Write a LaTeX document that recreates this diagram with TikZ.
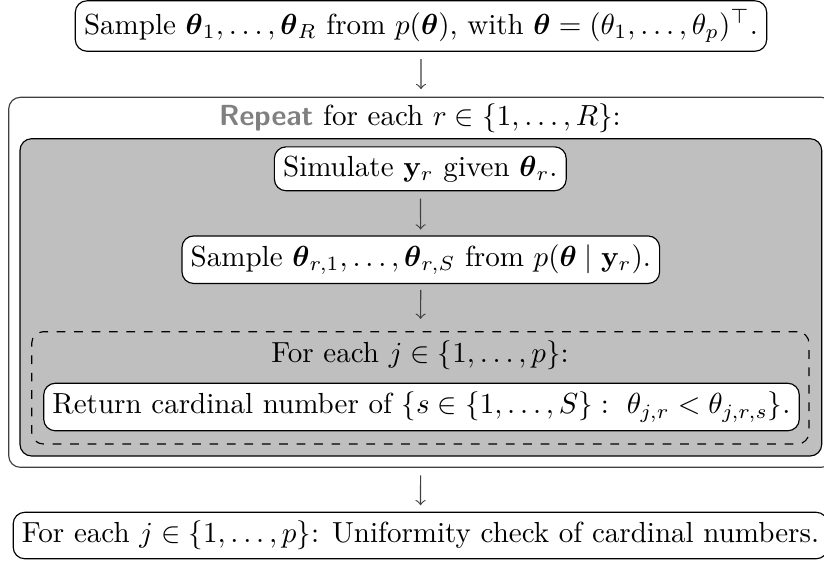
\documentclass[tikz,border=0pt]{standalone}
\usepackage{amsmath}
\usepackage{amssymb}
\usetikzlibrary{arrows}
\usetikzlibrary{fit}
\usetikzlibrary{backgrounds}

\begin{document}
\begin{tikzpicture}[x=0.3443pt, y=-0.3443pt]
  \useasboundingbox (0,0) rectangle (824,563);

  \tikzstyle{task}=[draw, rounded corners=4pt, fill=white, inner sep=3pt];
  \tikzstyle{loop_frame}=[draw, rounded corners=4pt, inner sep=0pt];
  \tikzstyle{flow}=[draw=black!75];

  \coordinate (outer_1) at (8.7, 97.3);
  \coordinate (outer_2) at (833, 467.3);
  \coordinate (shade_1) at (20, 138.7);
  \coordinate (shade_2) at (821.7, 456);
  \coordinate (dash_1) at (31.7, 331.7);
  \coordinate (dash_2) at (809, 444);

  \node (repeat_loop) [loop_frame, draw=black!75, fit=(outer_1)(outer_2)]{};
  \node (sim_loop) [loop_frame, fill=black!25, fit=(shade_1)(shade_2)]{};
  \node (param_loop) [loop_frame, dashed, fit=(dash_1)(dash_2)]{};

  \node (prior) at (421, 26) [task]{Sample $\boldsymbol{\theta}_1, \ldots, \boldsymbol{\theta}_R$ from $p(\boldsymbol{\theta})$, with $\boldsymbol{\theta} = (\theta_1, \ldots, \theta_p)^{\top}$.};

  \node (repeat_label) at (420, 118) {\textcolor{black!50}{\textsf{\textbf{Repeat}}} for each $r \in \{1, \ldots, R\}$:};

  \node (simulate) at (420.3, 168.8) [task]{Simulate $\mathbf{y}_r$ given $\boldsymbol{\theta}_r$.};
  \node (posterior) at (420.8, 259.7) [task]{Sample $\boldsymbol{\theta}_{r,1}, \ldots, \boldsymbol{\theta}_{r,S}$ from $p(\boldsymbol{\theta} \mid \mathbf{y}_r)$.};

  \node (param_label) at (420, 355) {For each $j \in \{1, \ldots, p\}$:};
  \node (rank) at (421.5, 407) [task]{Return cardinal number of $\{s \in \{1, \ldots, S\} :\ \theta_{j,r} < \theta_{j,r,s}\}$.};

  \node (check) at (420.5, 535.5) [task]{For each $j \in \{1, \ldots, p\}$: Uniformity check of cardinal numbers.};

  \draw[flow] (prior) edge[-to, shorten <=2.5pt, shorten >=2.6pt] (repeat_loop);
  \draw[flow] (simulate) edge[-to, shorten <=2.5pt, shorten >=2pt] (posterior);
  \draw[flow] (posterior) edge[-to, shorten <=2pt, shorten >=4.2pt] (param_loop);
  \draw[flow] (repeat_loop) edge[-to, shorten <=2.6pt, shorten >=2.2pt] (check);

\end{tikzpicture}
\end{document}
